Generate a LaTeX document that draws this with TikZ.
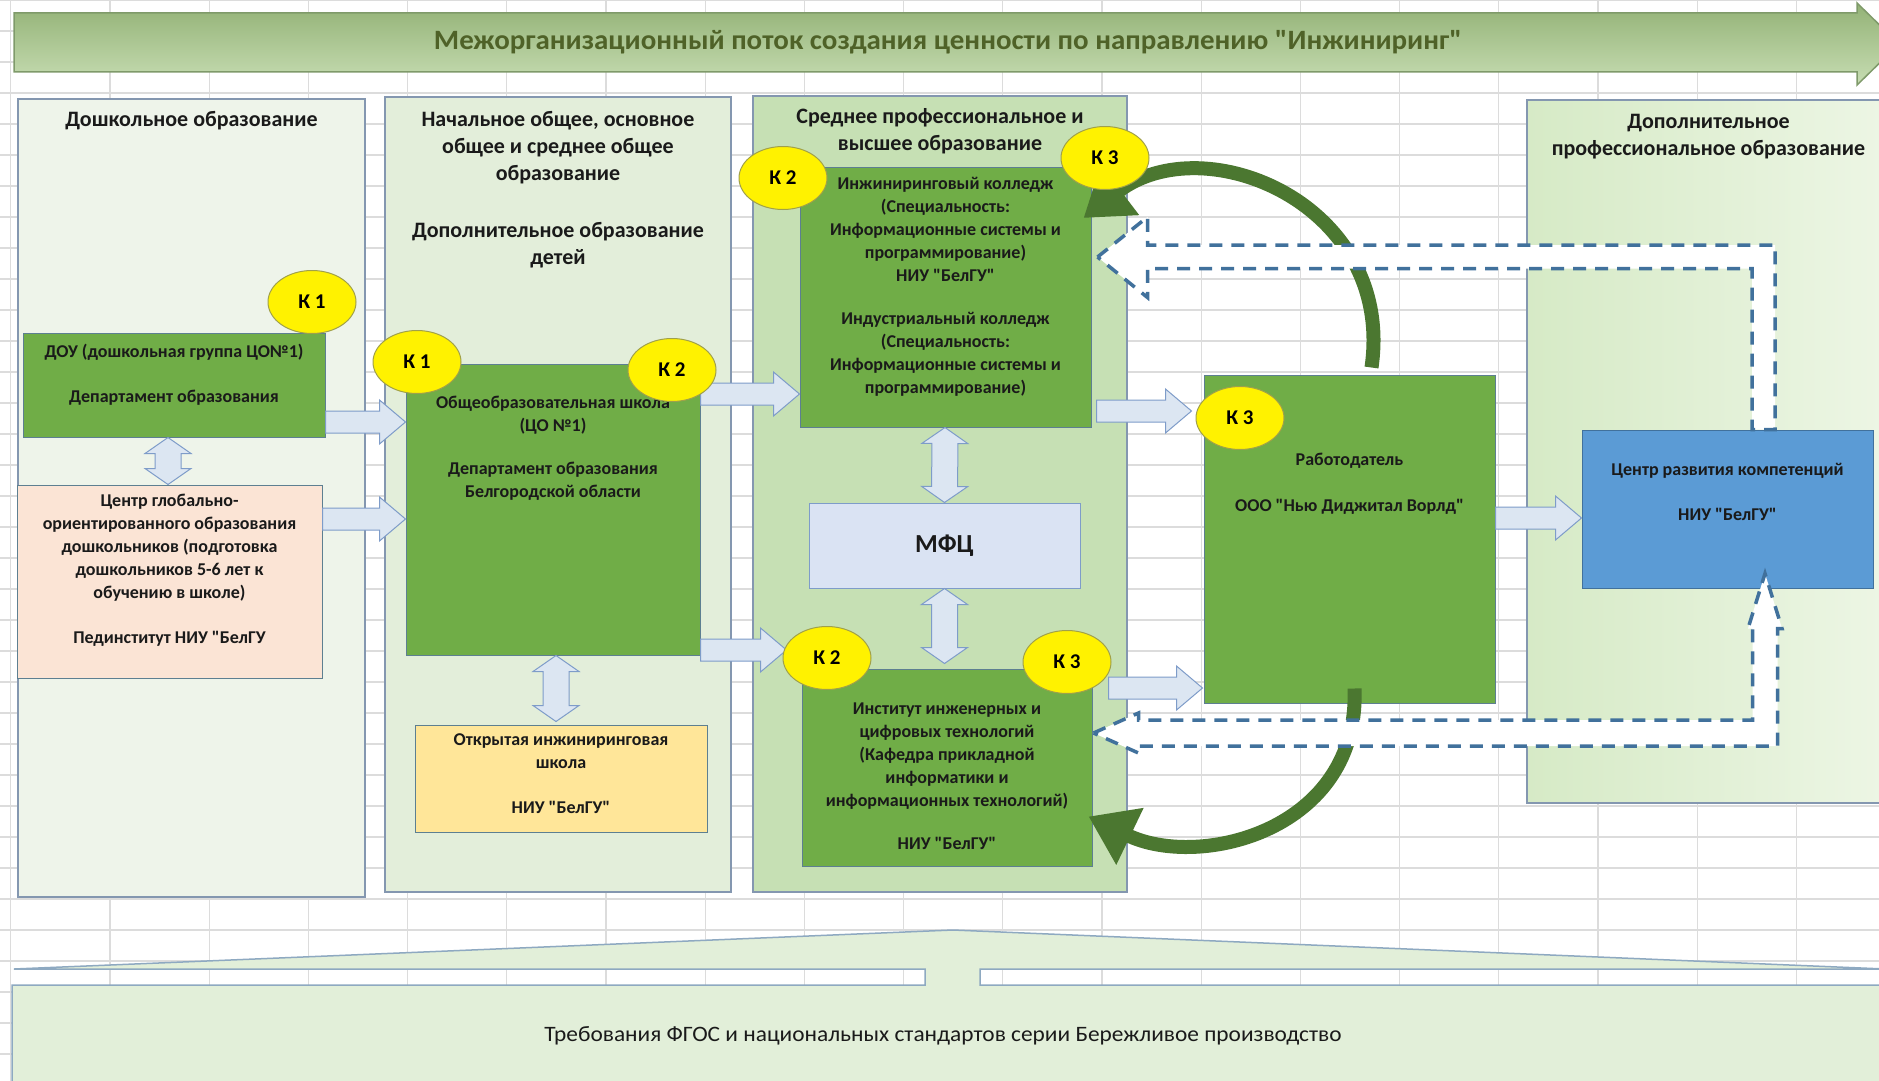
\documentclass[tikz,border=0pt]{standalone}
\usepackage{fontspec}
\setmainfont{Carlito}[Ligatures=TeXOff]
\usepackage{graphicx}
\usetikzlibrary{positioning,calc,shapes.geometric,arrows.meta}

\definecolor{gridgray}{HTML}{DCDCDC}
\definecolor{titletop}{HTML}{93B276}
\definecolor{titlebot}{HTML}{C7DDB3}
\definecolor{titleline}{HTML}{7F9A6A}
\definecolor{titleink}{HTML}{4F6228}
\definecolor{panelline}{HTML}{8497B0}
\definecolor{prefill}{HTML}{EEF4EA}
\definecolor{genfill}{HTML}{E3EEDA}
\definecolor{highfill}{HTML}{C6E0B4}
\definecolor{dpoleft}{HTML}{D6EAC6}
\definecolor{dporight}{HTML}{EDF6E5}
\definecolor{boxgreen}{HTML}{70AD47}
\definecolor{boxline}{HTML}{5D7F91}
\definecolor{peach}{HTML}{FBE4D5}
\definecolor{sand}{HTML}{FFE699}
\definecolor{mfcblue}{HTML}{DAE3F3}
\definecolor{cdcblue}{HTML}{5B9BD5}
\definecolor{cdcline}{HTML}{41719C}
\definecolor{kline}{HTML}{A0A04A}
\definecolor{arrfill}{HTML}{DCE6F2}
\definecolor{arrline}{HTML}{7E9CC9}
\definecolor{dashblue}{HTML}{41719C}
\definecolor{arcgreen}{HTML}{4B7730}
\definecolor{footfill}{HTML}{E2EFD9}
\definecolor{footline}{HTML}{8EA9C1}
\definecolor{ink}{HTML}{1A1A1A}

\tikzset{
  gridline/.style={draw=gridgray, line width=1.2pt},
  panel/.style={draw=panelline, line width=1.5pt, inner sep=0pt},
  headtext/.style={align=center, inner sep=0pt, text=ink, font=\bfseries\fontsize{22}{27}\selectfont},
  box/.style={draw=boxline, line width=1pt, inner sep=0pt},
  boxtext/.style={align=center, inner sep=0pt, text=ink, font=\bfseries\fontsize{18}{23}\selectfont},
  kmark/.style={ellipse, draw=kline, fill=yellow, line width=1pt, minimum width=88pt,
    minimum height=63pt, inner sep=0pt, font=\bfseries\fontsize{21}{21}\selectfont},
  flowarrow/.style={draw=arrline, fill=arrfill, line width=1pt, line join=miter},
  dasharrow/.style={draw=dashblue, fill=white, line width=3.5pt, dash pattern=on 13pt off 9pt},
  greenarc/.style={draw=arcgreen, line width=14pt, -{Triangle[length=46pt,width=60pt]}},
}

% block arrow from #1 to #2
\newcommand{\flowarr}[2]{%
  \coordinate (fa-s) at #1;
  \coordinate (fa-e) at #2;
  \coordinate (fa-b) at ($(fa-e)!26pt!(fa-s)$);
  \draw[flowarrow] ($(fa-s)!11pt!90:(fa-e)$) -- ($(fa-b)!11pt!-90:(fa-s)$)
    -- ($(fa-b)!22pt!-90:(fa-s)$) -- (fa-e) -- ($(fa-b)!22pt!90:(fa-s)$)
    -- ($(fa-b)!11pt!90:(fa-s)$) -- ($(fa-s)!11pt!-90:(fa-e)$) -- cycle;
}
% two-headed block arrow
\newcommand{\dblarr}[2]{%
  \coordinate (da-s) at #1;
  \coordinate (da-e) at #2;
  \coordinate (da-1) at ($(da-s)!16pt!(da-e)$);
  \coordinate (da-2) at ($(da-e)!16pt!(da-s)$);
  \draw[flowarrow] (da-s) -- ($(da-1)!23pt!90:(da-e)$) -- ($(da-1)!13pt!90:(da-e)$)
    -- ($(da-2)!13pt!-90:(da-s)$) -- ($(da-2)!23pt!-90:(da-s)$) -- (da-e)
    -- ($(da-2)!23pt!90:(da-s)$) -- ($(da-2)!13pt!90:(da-s)$)
    -- ($(da-1)!13pt!-90:(da-e)$) -- ($(da-1)!23pt!-90:(da-e)$) -- cycle;
}

\begin{document}
\begin{tikzpicture}[x=1pt,y=-1pt]
\useasboundingbox (0,0) rectangle (1879,1081);
\fill[white] (0,0) rectangle (1879,1081);

% sheet grid
\foreach \gx in {0,...,18}
  \draw[gridline] ({10.8+99.2*\gx},0) -- ++(0,1081);
\foreach \gy in {0,...,34}
  \draw[gridline] (0,{31*\gy}) -- ++(1879,0);

% value stream banner
\path[draw=titleline, line width=1.5pt, top color=titletop, bottom color=titlebot]
  (14,13) -- (1857,13) -- (1857,3) -- (1899,44) -- (1857,85) -- (1857,72) -- (14,72) -- cycle;
\node[text=titleink, inner sep=0pt, font=\bfseries\fontsize{28}{28}\selectfont] (flow) at (948,42)
  {\resizebox{1028pt}{\height}{Межорганизационный поток создания ценности по направлению "Инжиниринг"}};

% stages
\node[panel, fill=prefill, minimum width=347pt, minimum height=798pt] (pre) at (191.5,498) {};
\node[panel, fill=genfill, minimum width=346pt, minimum height=795pt] (gen) at (558,494.5) {};
\node[panel, fill=highfill, minimum width=374pt, minimum height=796pt] (high) at (940,494) {};
\node[panel, left color=dpoleft, right color=dporight, minimum width=363pt, minimum height=703pt] (dpo) at (1708.5,451.5) {};

\node[headtext, below=13pt of pre.north] (pre-t) {Дошкольное образование};
\node[headtext, below=15pt of gen.north] (gen-t) {Начальное общее, основное\\общее и среднее общее\\образование\\[30pt]Дополнительное образование\\детей};
\node[headtext, below=13pt of high.north] (high-t) {Среднее профессиональное и\\высшее образование};
\node[headtext, below=15pt of dpo.north] (dpo-t) {Дополнительное\\профессиональное образование};

% standards
\path[draw=footline, line width=1.5pt, fill=footfill]
  (12,1090) -- (12,985) -- (925,985) -- (925,969) -- (14,969) -- (953,930) -- (1885,969)
  -- (980,969) -- (980,985) -- (1885,985) -- (1885,1090) -- cycle;
\node[text=ink, inner sep=0pt, font=\fontsize{22}{22}\selectfont] (req) at (943,1036)
  {\resizebox{797pt}{\height}{Требования ФГОС и национальных стандартов серии Бережливое производство}};

% organisations
\node[box, fill=boxgreen, minimum width=302pt, minimum height=104pt] (dou) at (174,385) {};
\node[box, fill=peach, minimum width=305pt, minimum height=193pt] (centr) at (169.5,581.5) {};
\node[box, fill=boxgreen, minimum width=294pt, minimum height=291pt] (school) at (553,509.5) {};
\node[box, fill=sand, minimum width=292pt, minimum height=107pt] (open) at (561,778.5) {};
\node[box, fill=boxgreen, minimum width=291pt, minimum height=260pt] (college) at (945.5,297) {};
\node[box, draw=arrline, fill=mfcblue, minimum width=271pt, minimum height=85pt,
  font=\bfseries\fontsize{26}{26}\selectfont, text=ink] (mfc) at (944.5,545.5) {МФЦ};
\node[box, fill=boxgreen, minimum width=290pt, minimum height=197pt] (inst) at (947,767.5) {};
\node[box, fill=boxgreen, minimum width=291pt, minimum height=328pt] (emp) at (1349.5,539) {};
\node[box, draw=cdcline, fill=cdcblue, minimum width=291pt, minimum height=158pt] (cdc) at (1727.5,509) {};

\node[boxtext, below=11pt of dou.north] (dou-t) {ДОУ (дошкольная группа ЦО№1)\\[22pt]Департамент образования};
\node[boxtext, below=9pt of centr.north] (centr-t) {Центр глобально-\\ориентированного образования\\дошкольников (подготовка\\дошкольников 5-6 лет к\\обучению в школе)\\[22pt]Пединститут НИУ "БелГУ};
\node[boxtext, below=32pt of school.north] (school-t) {Общеобразовательная школа\\(ЦО №1)\\[20pt]Департамент образования\\Белгородской области};
\node[boxtext, below=9pt of open.north] (open-t) {Открытая инжиниринговая\\школа\\[22pt]НИУ "БелГУ"};
\node[boxtext, below=11pt of college.north] (college-t) {Инжиниринговый колледж\\(Специальность:\\Информационные системы и\\программирование)\\НИУ "БелГУ"\\[20pt]Индустриальный колледж\\(Специальность:\\Информационные системы и\\программирование)};
\node[boxtext, below=34pt of inst.north] (inst-t) {Институт инженерных и\\цифровых технологий\\(Кафедра прикладной\\информатики и\\информационных технологий)\\[20pt]НИУ "БелГУ"};
\node[boxtext, below=78pt of emp.north] (emp-t) {Работодатель\\[23pt]ООО "Нью Диджитал Ворлд"};
\node[boxtext, below=34pt of cdc.north] (cdc-t) {Центр развития компетенций\\[22pt]НИУ "БелГУ"};

% flows
\flowarr{($(dou.east)+(0,37)$)}{($(school.west)+(0,-87.5)$)}
\flowarr{($(centr.east)+(0,-62.5)$)}{($(school.west)+(0,9.5)$)}
\flowarr{($(school.east)+(0,-115.5)$)}{($(college.west)+(0,97)$)}
\flowarr{($(school.east)+(0,140.5)$)}{($(inst.west)+(-15,-117.5)$)}
\flowarr{($(college.east)+(5,114)$)}{($(emp.west)+(-12,-128)$)}
\flowarr{($(inst.east)+(16,-79.5)$)}{($(emp.west)+(-1,149)$)}
\flowarr{($(emp.east)+(0,-21)$)}{($(cdc.west)+(0,9)$)}

\dblarr{($(dou.south)+(-6,0)$)}{($(centr.north)+(-1.5,0)$)}
\dblarr{($(school.south)+(3,0)$)}{($(open.north)+(-5,-3)$)}
\dblarr{($(college.south)+(-0.5,0)$)}{(mfc.north)}
\dblarr{(mfc.south)}{($(inst.north)+(-2.5,-5)$)}

% feedback
\draw[greenarc] ($(emp.north)+(22,-7)$) .. controls (1395,205) and (1205,125) .. ($(college.east)+(-8,-79)$);
\draw[greenarc] ($(emp.south)+(5,-15)$) .. controls (1360,830) and (1200,870) .. ($(inst.east)+(-4,49)$);

\coordinate (up-tip) at ($(college.east)+(6,-40)$);
\coordinate (up-end) at ($(cdc.north)+(36,0)$);
\draw[dasharrow] (up-tip) -- ++(50,-40) -- ++(0,28) -| ($(up-end)+(11.5,0)$)
  -- ($(up-end)+(-11.5,0)$) |- ($(up-tip)+(50,11.5)$) -- ++(0,29) -- cycle;

\coordinate (lo-tip) at ($(inst.east)+(1,-34.5)$);
\coordinate (lo-top) at ($(cdc.south)+(37.5,-15)$);
\draw[dasharrow] (lo-tip) -- ++(45,-20) -- ++(0,7) -| ($(lo-top)+(-12.5,55)$)
  -- ($(lo-top)+(-17,55)$) -- (lo-top) -- ($(lo-top)+(17,55)$) -- ($(lo-top)+(12.5,55)$)
  |- ($(lo-tip)+(45,13)$) -- ++(0,7) -- cycle;

% competences
\node[kmark] (k1d) at (312,302) {К 1};
\node[kmark] (k1s) at (417,362) {К 1};
\node[kmark] (k2s) at (672,370) {К 2};
\node[kmark] (k2c) at (783,178) {К 2};
\node[kmark] (k3c) at (1105,158) {К 3};
\node[kmark] (k2i) at (827,658) {К 2};
\node[kmark] (k3i) at (1067,662) {К 3};
\node[kmark] (k3e) at (1240,418) {К 3};
\end{tikzpicture}
\end{document}
